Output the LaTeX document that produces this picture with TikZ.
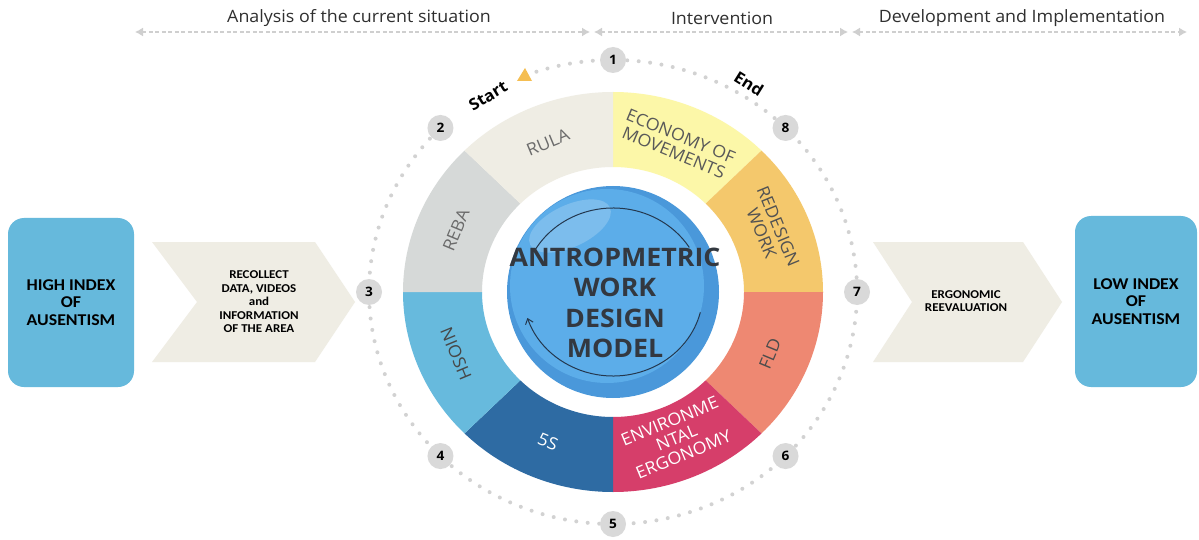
\documentclass[tikz,border=0pt]{standalone}
\usepackage{fontspec}
\setmainfont[FakeStretch=1.05]{Open Sans}
\newfontfamily\boxfont[FakeStretch=1.08]{Carlito}
\usetikzlibrary{arrows.meta,calc}

\definecolor{hdrtext}{HTML}{2F2F2F}
\definecolor{phasegray}{HTML}{CFCFCF}
\definecolor{boxblue}{HTML}{66B9DC}
\definecolor{chevfill}{HTML}{EFEDE4}
\definecolor{segecon}{HTML}{FCF7A8}
\definecolor{segredes}{HTML}{F4C86C}
\definecolor{segfld}{HTML}{EE8872}
\definecolor{segenv}{HTML}{D63E6A}
\definecolor{segfives}{HTML}{2E6BA3}
\definecolor{segniosh}{HTML}{67BADD}
\definecolor{segreba}{HTML}{D6D9D8}
\definecolor{segrula}{HTML}{EFEDE4}
\definecolor{dotgray}{HTML}{D2D2D2}
\definecolor{numgray}{HTML}{D9D9D9}
\definecolor{startorange}{HTML}{F5BE52}
\definecolor{ballrim}{HTML}{4A98DA}
\definecolor{ballmid}{HTML}{5CADE9}
\definecolor{cycline}{HTML}{24384F}
\definecolor{coretext}{HTML}{333840}

\begin{document}
\begin{tikzpicture}[x=1pt,y=1pt,
  hdr/.style={font=\fontsize{17}{20}\selectfont, text=hdrtext, inner sep=0pt},
  phase/.style={{Latex[length=8pt,width=9pt]}-{Latex[length=8pt,width=9pt]},
    draw=phasegray, line width=1.3pt, dash pattern=on 4pt off 2.5pt},
  idx/.style={rounded corners=16pt, fill=boxblue, align=center, inner sep=0pt,
    font=\boxfont\bfseries\fontsize{16.5}{17.5}\selectfont},
  chevtext/.style={align=center, inner sep=0pt, font=\boxfont\bfseries\fontsize{12}{13.5}\selectfont},
  seglabel/.style={align=center, inner sep=0pt, font=\fontsize{17}{18}\selectfont},
  numc/.style={circle, fill=numgray, minimum size=26pt, inner sep=0pt,
    font=\bfseries\fontsize{13}{13}\selectfont},
  marker/.style={inner sep=0pt, font=\bfseries\fontsize{16}{16}\selectfont},
  dots/.style={draw=dotgray, line width=4pt, line cap=round, dash pattern=on 0pt off 11.5pt},
  cyc/.style={draw=cycline, line width=1pt},
]
\useasboundingbox (0,0) rectangle (1199,-540);
\fill[white] (0,0) rectangle (1199,-540);

% ---- phase headers ----
\node[hdr] (h1) at (359,-18) {Analysis of the current situation};
\node[hdr] (h2) at (722,-18) {Intervention};
\node[hdr] (h3) at (1022,-18) {Development and Implementation};
\coordinate (p0) at (135,-32);
\coordinate (p1) at (590,-32);
\coordinate (p2) at (594,-32);
\coordinate (p3) at (848,-32);
\coordinate (p4) at (852,-32);
\coordinate (p5) at (1187,-32);
\draw[phase] (p0) -- (p1);
\draw[phase] (p2) -- (p3);
\draw[phase] (p4) -- (p5);

% ---- side boxes ----
\node[idx, minimum width=126pt, minimum height=169pt] (high) at (71,-302.5)
  {HIGH INDEX\\OF\\AUSENTISM};
\node[idx, minimum width=122pt, minimum height=171pt] (low) at (1136,-301.5)
  {LOW INDEX\\OF\\AUSENTISM};

% ---- chevrons ----
\fill[chevfill] (152,-242) -- (315,-242) -- (355,-302) -- (315,-362) -- (152,-362) -- (197,-302) -- cycle;
\node[chevtext] (recollect) at (259,-302)
  {RECOLLECT\\DATA, VIDEOS\\and\\INFORMATION\\OF THE AREA};
\fill[chevfill] (873,-242) -- (1023,-242) -- (1062,-302) -- (1023,-362) -- (873,-362) -- (912,-302) -- cycle;
\node[chevtext] (reeval) at (966,-301) {ERGONOMIC\\REEVALUATION};

% ---- central ring ----
\coordinate (C) at (613,-292);
\foreach \a/\c in {45/segecon, 0/segredes, -45/segfld, -90/segenv,
                   225/segfives, 180/segniosh, 135/segreba, 90/segrula}{
  \fill[\c] ($(C)+(\a:210 and 200)$)
    arc[start angle=\a, end angle=\a+45, x radius=210, y radius=200]
    -- ($(C)+({\a+45}:131 and 125)$)
    arc[start angle=\a+45, end angle=\a, x radius=131, y radius=125] -- cycle;
}

\node[seglabel, text=black!58, rotate=22.5]  (rula)  at ($(C)+(112.5:170 and 162)$) {RULA};
\node[seglabel, text=black!65, rotate=-22.5] (econ)  at ($(C)+(67.5:168 and 160)$) {ECONOMY OF\\MOVEMENTS};
\node[seglabel, text=black!68, rotate=-67.5] (redes) at ($(C)+(22.5:170 and 162)$) {REDESIGN\\WORK};
\node[seglabel, text=black!70, rotate=67.5]  (fld)   at ($(C)+(-22.5:170 and 162)$) {FLD};
\node[seglabel, text=white, rotate=22.5]     (env)   at ($(C)+(-67.5:166 and 158)$) {ENVIRONME\\NTAL\\ERGONOMY};
\node[seglabel, text=white, rotate=-22.5]    (fives) at ($(C)+(247.5:170 and 162)$) {5S};
\node[seglabel, text=black!72, rotate=-67.5] (niosh) at ($(C)+(202.5:170 and 162)$) {NIOSH};
\node[seglabel, text=black!58, rotate=67.5]  (reba)  at ($(C)+(157.5:170 and 162)$) {REBA};

% ---- central sphere ----
\fill[ballrim] (C) circle[radius=106];
\fill[ballmid] ($(C)+(-6,6)$) circle[radius=97];
\fill[white, opacity=0.2, rotate around={25:(570,-226)}] (570,-226) ellipse[x radius=44, y radius=21];
\draw[cyc] ($(C)+(151:90 and 84)$) arc[start angle=151, end angle=32, x radius=90, y radius=84];
\draw[cyc, -{Straight Barb[length=5pt,width=8pt]}] ($(C)+(-14:90 and 84)$)
  arc[start angle=-14, end angle=-162, x radius=90, y radius=84];
\node[align=center, inner sep=0pt, text=coretext, font=\bfseries\fontsize{25.5}{30.5}\selectfont]
  (core) at (615,-303) {ANTROPMETRIC\\WORK\\DESIGN\\MODEL};

% ---- dotted track, start/end markers and step numbers ----
\draw[dots] ($(C)+(111:244 and 232)$) arc[start angle=111, end angle=-225, x radius=244, y radius=232];
\fill[startorange] (517,-81) -- (532,-81) -- (525,-68) -- cycle;
\node[marker, rotate=31] (start) at (488,-96) {Start};
\node[marker, rotate=-32] (end) at (749,-84) {End};
\foreach \n/\a in {1/90, 2/135, 3/180, 4/225, 5/270, 6/315, 7/0, 8/45}{
  \node[numc] (n\n) at ($(C)+(\a:244 and 232)$) {\n};
}
\end{tikzpicture}
\end{document}
